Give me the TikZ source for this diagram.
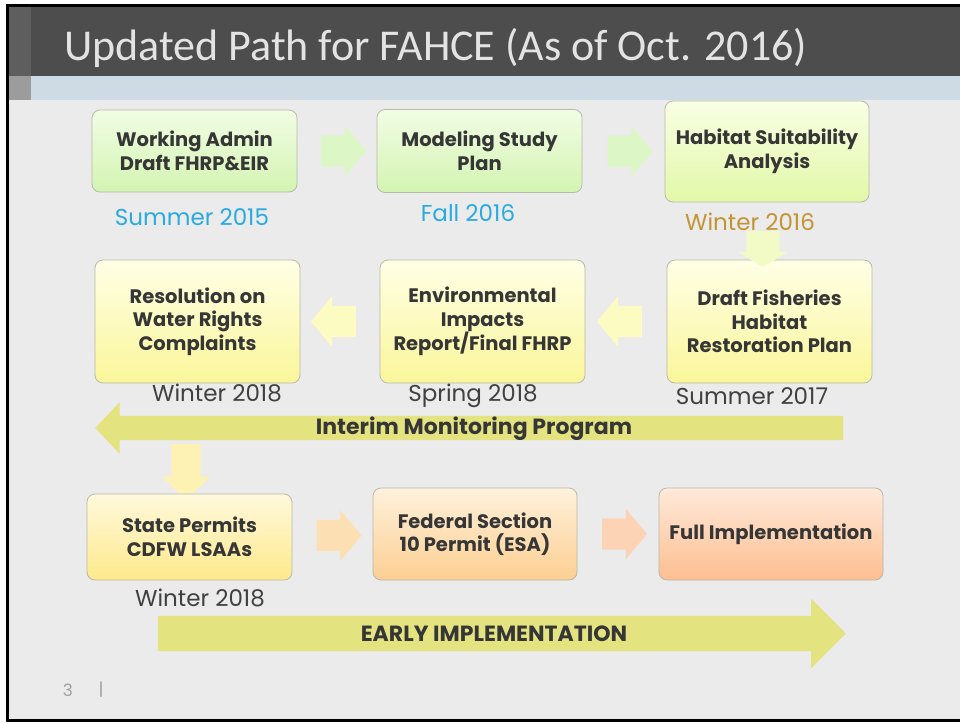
\documentclass[tikz,border=0pt]{standalone}
\usepackage{fontspec}
\setmainfont{Poppins}
\newfontfamily\titlefont{Carlito}
\usetikzlibrary{shapes.arrows, calc}

\definecolor{slidebg}{HTML}{EBEBEB}
\definecolor{titlebar}{HTML}{4D4D4D}
\definecolor{band}{HTML}{CFDBE4}
\definecolor{stripA}{HTML}{5E5E5E}
\definecolor{stripB}{HTML}{9C9C9C}
\definecolor{titletext}{HTML}{E3E3E3}
\definecolor{boxline}{HTML}{B8B8AC}
\definecolor{boxtext}{HTML}{363636}
\definecolor{greentop}{HTML}{F1FDE4}
\definecolor{greenbot}{HTML}{D3F4B2}
\definecolor{limetop}{HTML}{F8FFE4}
\definecolor{limebot}{HTML}{E2F8A8}
\definecolor{yellowtop}{HTML}{FFFFE6}
\definecolor{yellowbot}{HTML}{FAF69A}
\definecolor{goldtop}{HTML}{FFF9DC}
\definecolor{goldbot}{HTML}{FDE98C}
\definecolor{peachtop}{HTML}{FFF1DC}
\definecolor{peachbot}{HTML}{FCCF92}
\definecolor{salmontop}{HTML}{FFE9DA}
\definecolor{salmonbot}{HTML}{FDBF90}
\definecolor{greenarrow}{HTML}{DCF6C6}
\definecolor{limearrow}{HTML}{F2FBC6}
\definecolor{yellowarrow}{HTML}{FCFCC2}
\definecolor{goldarrow}{HTML}{FDF2B4}
\definecolor{peacharrow}{HTML}{FDDFB4}
\definecolor{salmonarrow}{HTML}{FDD3B6}
\definecolor{bigarrow}{HTML}{E3E47F}
\definecolor{dateblue}{HTML}{29ABE2}
\definecolor{dategold}{HTML}{C39434}
\definecolor{datedark}{HTML}{404040}
\definecolor{pagenum}{HTML}{A0A0A0}

\begin{document}
\begin{tikzpicture}[x=1pt, y=-1pt,
    stepbox/.style={draw=boxline, line width=0.8pt, rounded corners=8pt,
      minimum width=205pt, align=center, text=boxtext, inner sep=2pt,
      font=\fontsize{19.5}{23.5}\selectfont\bfseries},
    datelbl/.style={font=\fontsize{23}{27}\selectfont, inner sep=0pt},
    flowarrow/.style={single arrow, draw=none, inner xsep=0pt, inner ysep=15.5pt,
      minimum height=45pt, single arrow head extend=9.5pt, single arrow tip angle=100},
    downarrow/.style={single arrow, draw=none, inner ysep=0pt, shape border rotate=270},
    bigarrowstyle/.style={single arrow, draw=none, fill=bigarrow, inner xsep=0pt},
    bigtext/.style={text=boxtext, font=\fontsize{22}{26}\selectfont\bfseries, inner sep=0pt}]
  \useasboundingbox (0,0) rectangle (960,723);
  % slide frame and header
  \fill[white] (0,0) rectangle (960,723);
  \fill[black] (6,4) rectangle (960,722);
  \fill[slidebg] (9,7) rectangle (960,719);
  \fill[titlebar] (9,7) rectangle (960,76);
  \fill[band] (9,76) rectangle (960,100);
  \fill[stripA] (9,7) rectangle (31,76);
  \fill[stripB] (9,76) rectangle (31,100);
  \node[anchor=base west, text=titletext, inner sep=0pt,
    font=\titlefont\fontsize{44}{52}\selectfont] (title) at (64,60)
    {Updated Path for FAHCE (As of Oct. 2016)};

  % first row
  \node[stepbox, minimum height=82pt, top color=greentop, bottom color=greenbot] (wad) at (194.5,151) {Working Admin\\Draft FHRP\&EIR};
  \node[stepbox, minimum height=83pt, top color=greentop, bottom color=greenbot] (msp) at (479.5,151) {Modeling Study\\Plan};
  \node[stepbox, minimum width=204pt, minimum height=101pt, top color=limetop, bottom color=limebot] (hsa) at (767,151.5) {Habitat Suitability\\Analysis};
  \node[datelbl, text=dateblue] (d2015) at (192,217) {Summer 2015};
  \node[datelbl, text=dateblue] (d2016f) at (468,213) {Fall 2016};
  \node[flowarrow, fill=greenarrow] (a1) at ($(wad.east)!.5!(msp.west)$) {};
  \node[flowarrow, fill=greenarrow] (a2) at ($(msp.east)!.5!(hsa.west)$) {};

  % second row
  \node[stepbox, minimum height=123pt, top color=yellowtop, bottom color=yellowbot] (rwr) at (197.5,321.5) {Resolution on\\Water Rights\\Complaints};
  \node[stepbox, minimum height=123pt, top color=yellowtop, bottom color=yellowbot] (eir) at (482.5,321.5) {Environmental\\Impacts\\Report/Final FHRP};
  \node[stepbox, minimum height=123pt, top color=yellowtop, bottom color=yellowbot] (dfh) at (769.5,321.5) {Draft Fisheries\\Habitat\\Restoration Plan};
  \node[downarrow, fill=limearrow, inner xsep=16.5pt, minimum height=36pt,
    single arrow head extend=8.5pt, single arrow tip angle=118] (a3) at (763,244) {};
  \node[datelbl, text=dategold] (d2016w) at (750,222) {Winter 2016};
  \node[flowarrow, fill=yellowarrow, shape border rotate=180] (a4) at ($(dfh.west)!.5!(eir.east)$) {};
  \node[flowarrow, fill=yellowarrow, shape border rotate=180] (a5) at ($(eir.west)!.5!(rwr.east)$) {};
  \node[datelbl, text=datedark] (d2018w) at (217,393) {Winter 2018};
  \node[datelbl, text=datedark] (d2018s) at (473,396) {Spring 2018};
  \node[datelbl, text=datedark] (d2017) at (752,396) {Summer 2017};

  % interim monitoring
  \node[downarrow, fill=goldarrow, inner xsep=14.5pt, minimum height=56pt,
    single arrow head extend=9.5pt, single arrow tip angle=92] (a6) at (186,465) {};
  \node[bigarrowstyle, inner ysep=12pt, shape border rotate=180, minimum height=748pt,
    single arrow head extend=13.5pt, single arrow tip angle=93] (imp) at (475,428) {};
  \node[bigtext] (imptext) at (474,429) {Interim Monitoring Program};

  % third row
  \node[stepbox, minimum height=86pt, top color=goldtop, bottom color=goldbot] (spc) at (189.5,537) {State Permits\\CDFW LSAAs};
  \node[stepbox, minimum width=204pt, minimum height=92pt, top color=peachtop, bottom color=peachbot] (fsp) at (475,534) {Federal Section\\10 Permit (ESA)};
  \node[stepbox, minimum width=224pt, minimum height=92pt, top color=salmontop, bottom color=salmonbot] (fim) at (771,534) {Full Implementation};
  \node[flowarrow, fill=peacharrow] (a7) at ($(spc.east)!.5!(fsp.west)$) {};
  \node[flowarrow, fill=salmonarrow] (a8) at ($(fsp.east)!.5!(fim.west)$) {};
  \node[datelbl, text=datedark] (d2018p) at (200,598) {Winter 2018};

  % early implementation
  \node[bigarrowstyle, inner ysep=17.5pt, minimum height=688pt,
    single arrow head extend=17pt, single arrow tip angle=90] (eim) at (493,633.5) {};
  \node[bigtext] (eimtext) at (494,634) {EARLY IMPLEMENTATION};

  % footer
  \node[text=pagenum, font=\fontsize{17}{20}\selectfont, inner sep=0pt] (pnum) at (68,690) {3};
  \node[text=pagenum, font=\fontsize{17}{20}\selectfont, inner sep=0pt] (pbar) at (101,690) {|};
\end{tikzpicture}
\end{document}
